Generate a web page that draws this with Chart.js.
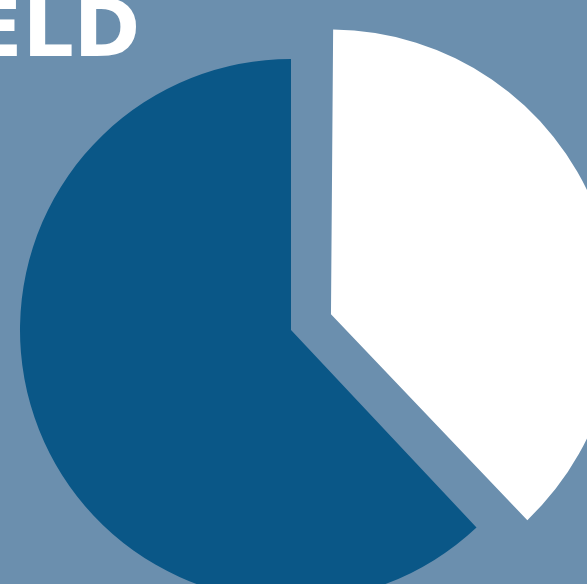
<!DOCTYPE html>
<html>
<head>
<meta charset="utf-8">
<script src="https://cdn.jsdelivr.net/npm/chart.js@4"></script>
<style>
    html, body {
        margin: 0;
        padding: 0;
        width: 587px;
        height: 584px;
        overflow: hidden;
        background: #6b8fae;
    }
    .wrap {
        position: relative;
        width: 587px;
        height: 584px;
    }
    .headline {
        position: absolute;
        left: -32px;
        top: -11px;
        font-family: "DejaVu Sans", sans-serif;
        font-weight: bold;
        font-size: 80px;
        line-height: 80px;
        color: #ffffff;
        white-space: nowrap;
        z-index: 2;
    }
</style>
</head>
<body>
<div class="wrap">
    <div class="headline">ELD</div>
    <canvas id="pieChart" width="587" height="584"></canvas>
</div>
<script>
// Slice data (share of the circle)
const labels = ['White share', 'Blue share'];
const values = [38, 62];
const sliceColors = ['#ffffff', '#0a5787'];
// chart.js draws offset / 4, so 172 pushes the white slice ~43px out
const sliceOffsets = [172, 0];

const ctx = document.getElementById('pieChart').getContext('2d');
const pieChart = new Chart(ctx, {
    type: 'pie',
    data: {
        labels: labels,
        datasets: [{
            data: values,
            backgroundColor: sliceColors,
            borderWidth: 0,
            offset: sliceOffsets,
            clip: false
        }]
    },
    options: {
        responsive: false,
        animation: false,
        radius: 271,
        layout: {
            // pie is bigger than the window, centre sits low and a bit left
            padding: { top: 76, left: 0, right: 5, bottom: 0 }
        },
        plugins: {
            legend: { display: false },
            tooltip: { enabled: false },
            title: { display: false }
        }
    }
});
</script>
</body>
</html>
